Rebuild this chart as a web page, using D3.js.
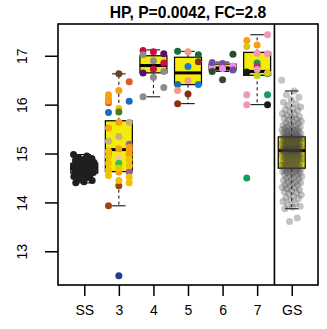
<!DOCTYPE html>
<html><head><meta charset="utf-8">
<script src="https://cdn.jsdelivr.net/npm/d3@7"></script>
<style>body{margin:0;background:#fff}svg{display:block;font-family:"Liberation Sans",Arial,Helvetica,sans-serif}</style>
</head><body><svg id="c" width="327" height="329"></svg>
<script>
// ---------- data ----------
const title = "HP, P=0.0042, FC=2.8";
const categories = ["SS", "3", "4", "5", "6", "7", "GS"];
const yTicks = [13, 14, 15, 16, 17];

// box statistics (per category)
const boxLow  = [14.40, 13.93, 16.16, 16.02, 16.68, 16.00, 13.87];
const boxQ1   = [14.60, 14.63, 16.65, 16.41, 16.71, 16.60, 14.70];
const boxMed  = [14.70, 15.08, 16.80, 16.65, 16.75, 16.68, 15.06];
const boxQ3   = [14.80, 15.67, 17.00, 16.97, 16.83, 17.07, 15.34];
const boxHigh = [14.98, 16.63, 17.12, 17.09, 16.87, 17.43, 16.28];

// SS samples (black)
const ssValues = [14.98,14.95,14.92,14.90,14.88,14.86,14.85,14.83,14.82,14.80,14.79,14.78,14.77,14.76,14.75,14.74,14.73,14.72,14.71,14.70,14.70,14.69,14.68,14.67,14.66,14.65,14.64,14.63,14.62,14.61,14.60,14.58,14.57,14.55,14.53,14.51,14.48,14.45,14.42,14.40,14.72,14.68,14.80,14.63,14.76];

// graded samples with family labels
const g3Values = [16.04,16.63,16.47, 16.20,16.29,16.07, 16.12,15.92,15.64, 16.08,15.85,15.19, 15.84,15.64,15.09, 15.52,15.35,15.06, 15.25,14.91,14.62, 15.02,14.80,14.40, 14.94,14.62,14.62, 14.80,14.34,15.13, 14.66,12.50,14.75, 14.55,14.45,14.98, 13.93,14.70,14.88, 15.05,15.10,14.52];
const g3Fam    = ["ored","brn","ored", "org","org","blu", "org","gld","tan", "org","olv","pur", "blu","org","rbr", "org","tan","org", "tan","pch","gld", "pur","grn","gld", "gld","org","pur", "gld","rbr","org", "gld","nvy","gld", "gld","gld","org", "rbr","gld","gld", "gld","org","gld"];
const g4Values = [17.11,17.08,17.04, 17.02,16.90,16.85, 16.65,16.73,16.68, 16.16,16.56,16.35];
const g4Fam    = ["crm","crm","dpu", "gry","gry","crm", "dpu","crm","gry", "gry","gry","gry"];
const g5Values = [17.09,17.08,17.02, 16.41,16.78,16.88, 16.29,16.49,16.41, 16.02,16.22];
const g5Fam    = ["dgr","sal","dgr", "blu","lbl","mar", "sal","sal","lbl", "mar","mar"];
const g6Values = [16.77,16.84,17.03, 16.68,16.74,16.79, 16.86,16.51,16.71];
const g6Fam    = ["vio","lpu","dkg", "dkg","vio","vio", "lpu","dkg","lpu"];
const g7Values = [17.31,17.22,17.43, 17.19,17.05,17.04, 16.67,16.85,16.63, 16.20,16.79,16.65, 16.00,16.72,16.20, 14.50,16.59,16.00];
const g7Fam    = ["org","org","pnk", "olg","pnk","pnk", "blk","gr7","gr7", "pnk","mag","yel", "pnk","pnk","gr7", "gr7","ygr","blk"];

// GS samples (grey, translucent)
const gsValues = [16.50,16.28,16.20,16.15,16.10,16.05,16.02,15.98,15.95,15.92,15.90,15.88,15.85,15.82,15.80,15.78,15.76,15.74,15.72,15.70,15.68,15.66,15.65,15.63,15.62,15.60,15.58,15.57,15.55,15.54,15.52,15.51,15.50,15.49,15.48,15.47,15.46,15.45,15.44,15.43,15.42,15.41,15.40,15.39,15.38,15.37,15.36,15.35,15.35,15.34,
15.33,15.33,15.32,15.31,15.31,15.30,15.29,15.28,15.28,15.27,15.26,15.25,15.24,15.24,15.23,15.22,15.21,15.20,15.20,15.19,15.18,15.17,15.17,15.16,15.15,15.14,15.14,15.13,15.12,15.12,15.11,15.10,15.10,15.09,15.09,15.08,15.08,15.07,15.07,15.06,
15.05,15.05,15.04,15.03,15.03,15.02,15.01,15.00,15.00,14.99,14.98,14.97,14.96,14.96,14.95,14.94,14.93,14.92,14.91,14.90,14.89,14.88,14.87,14.86,14.85,14.84,14.83,14.82,14.81,14.80,14.79,14.78,14.77,14.76,14.75,14.74,14.73,14.72,14.71,14.70,
14.69,14.68,14.67,14.66,14.65,14.64,14.63,14.62,14.61,14.60,14.58,14.57,14.56,14.54,14.53,14.51,14.50,14.48,14.46,14.45,14.43,14.41,14.40,14.38,14.36,14.35,14.33,14.31,14.30,14.28,14.26,14.24,14.22,14.20,14.18,14.15,14.12,14.10,14.08,14.05,14.02,13.98,13.95,13.92,13.90,13.87,13.68,13.61];

// ---------- styles ----------
const famKeys   = ["brn","ored","org","blu","olv","gld","tan","pur","rbr","pch","grn","nvy","crm","gry","dpu","dgr","sal","mar","lbl","dkg","vio","lpu","pnk","gr7","mag","blk","ygr","yel","olg"];
const famColors = ["#6b4226","#e0582a","#f7a10f","#1c6db5","#4f7a1b","#f2c200","#c9ae7e","#8e5fa8","#a0440e","#f7c4a0","#3cc24a","#1f3f8f","#c8103e","#8c8c8c","#5a0f6a","#176b3f","#f59a85","#8a2d13","#1a78d0","#2e4b2e","#f08cf0","#6e4fa3","#ee98b8","#129e5c","#b4306a","#1a1a1a","#bcd42a","#e8c21a","#d4c81a"];
const color = d3.scaleOrdinal().domain(famKeys).range(famColors);

const M = {left: 58, right: 318, top: 24, bottom: 285};
const svg = d3.select("#c");

const x = d3.scalePoint().domain(categories).range([M.left, M.right]).padding(0.76);
const y = d3.scaleLinear().domain([12.31, 17.65]).range([M.bottom, M.top]);
const step = x.step();
const bw = step * 0.78;

// title
svg.append("text").attr("x", 188).attr("y", 18).attr("text-anchor", "middle")
  .attr("font-weight", "bold").attr("font-size", 15.7).text(title);

// boxes
const g = svg.append("g");
categories.forEach((c, i) => {
  const cx = x(c);
  g.append("line").attr("x1", cx).attr("x2", cx).attr("y1", y(boxQ3[i])).attr("y2", y(boxHigh[i]))
    .attr("stroke", "#000").attr("stroke-dasharray", "3,3");
  g.append("line").attr("x1", cx).attr("x2", cx).attr("y1", y(boxQ1[i])).attr("y2", y(boxLow[i]))
    .attr("stroke", "#000").attr("stroke-dasharray", "3,3");
  [boxHigh[i], boxLow[i]].forEach(v => {
    g.append("line").attr("x1", cx - bw/4).attr("x2", cx + bw/4).attr("y1", y(v)).attr("y2", y(v))
      .attr("stroke", "#000").attr("stroke-width", 1);
  });
  g.append("rect").attr("x", cx - bw/2).attr("width", bw)
    .attr("y", y(boxQ3[i])).attr("height", y(boxQ1[i]) - y(boxQ3[i]))
    .attr("fill", "#f3ec0a").attr("stroke", "#000").attr("stroke-width", 1.2);
  g.append("line").attr("x1", cx - bw/2).attr("x2", cx + bw/2).attr("y1", y(boxMed[i])).attr("y2", y(boxMed[i]))
    .attr("stroke", "#000").attr("stroke-width", 3);
});

const R = 3.5;
const spread = i => ((i * 0.6180339887) % 1) - 0.5;

// SS points
svg.append("g").selectAll("circle").data(ssValues).join("circle")
  .attr("cx", (d, i) => x("SS") + spread(i) * 0.62 * step)
  .attr("cy", d => y(d)).attr("r", R).attr("fill", "#1f1f1f");

// GS points
svg.append("g").selectAll("circle").data(gsValues).join("circle")
  .attr("cx", (d, i) => x("GS") + spread(i) * 0.58 * step)
  .attr("cy", d => y(d)).attr("r", R).attr("fill", "#3a3a3a").attr("fill-opacity", 0.3);

// graded points
const groups = [["3", g3Values, g3Fam], ["4", g4Values, g4Fam], ["5", g5Values, g5Fam], ["6", g6Values, g6Fam], ["7", g7Values, g7Fam]];
groups.forEach(([c, vals, fams]) => {
  svg.append("g").selectAll("circle").data(vals).join("circle")
    .attr("cx", (d, i) => x(c) + ((i % 3) - 1) * 0.3 * step)
    .attr("cy", d => y(d)).attr("r", R).attr("fill", (d, i) => color(fams[i]));
});

// frame and divider
svg.append("rect").attr("x", M.left).attr("y", M.top).attr("width", M.right - M.left).attr("height", M.bottom - M.top)
  .attr("fill", "none").attr("stroke", "#000").attr("stroke-width", 1.6);
const divX = (x("7") + x("GS")) / 2;
svg.append("line").attr("x1", divX).attr("x2", divX).attr("y1", M.top).attr("y2", M.bottom)
  .attr("stroke", "#000").attr("stroke-width", 1.6);

// y axis
const yAxis = d3.axisLeft(y).tickValues(yTicks).tickSize(13).tickFormat(d3.format("d"));
const ya = svg.append("g").attr("transform", `translate(${M.left},0)`).call(yAxis);
ya.select(".domain").remove();
ya.selectAll(".tick line").attr("stroke-width", 1.5);
ya.selectAll(".tick text").attr("font-size", 14).attr("font-family", null)
  .attr("x", 0).attr("y", 0).attr("dy", null).attr("text-anchor", "middle")
  .attr("transform", "translate(-31,0) rotate(-90)");

// x axis
const xAxis = d3.axisBottom(x).tickSize(11).tickPadding(9);
const xa = svg.append("g").attr("transform", `translate(0,${M.bottom})`).call(xAxis);
xa.select(".domain").remove();
xa.selectAll(".tick line").attr("stroke-width", 1.5);
xa.selectAll(".tick text").attr("font-size", 14).attr("font-family", null);
</script></body></html>
